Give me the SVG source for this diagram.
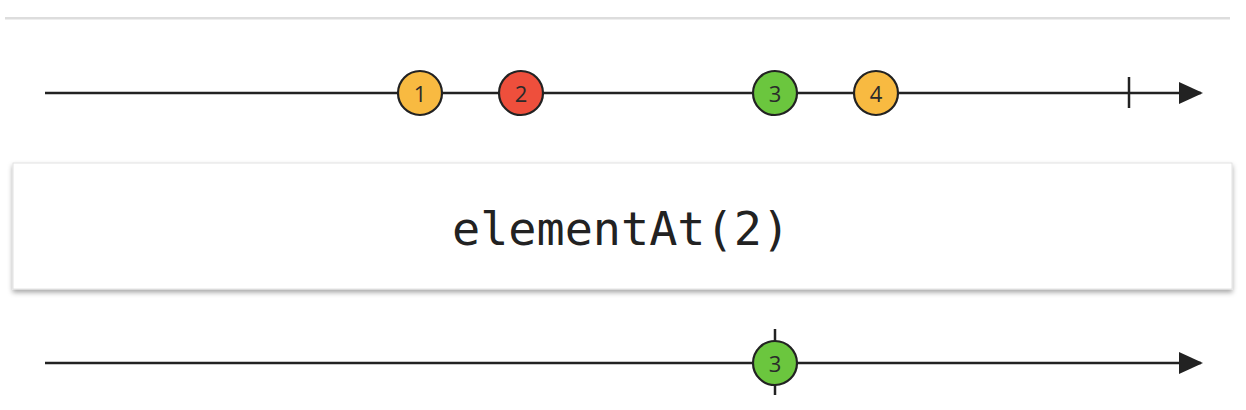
<svg xmlns="http://www.w3.org/2000/svg" width="1246" height="410" viewBox="0 0 1246 410">
<defs>
<style>
.tl{stroke:#222;stroke-width:2.5;fill:none}
.mk circle{stroke:#222;stroke-width:2.2}
.mk text{font-family:"Open Sans","DejaVu Sans",sans-serif;font-size:22px;fill:#2a2a2a;text-anchor:middle;dominant-baseline:central}
.y{fill:#F8BA41}.r{fill:#EE4F3C}.g{fill:#6BC63E}
</style>
<marker id="ah" viewBox="0 0 24 22" refX="22" refY="11" markerWidth="24" markerHeight="22" markerUnits="userSpaceOnUse" orient="auto">
<path d="M0,0 L24,11 L0,22 Z" fill="#222"/>
</marker>
<filter id="sh" x="-5%" y="-20%" width="110%" height="150%">
<feDropShadow dx="0" dy="3" stdDeviation="2.5" flood-color="#000" flood-opacity="0.35"/>
</filter>
</defs>
<rect width="1246" height="410" fill="#fff"/>
<rect x="5" y="17" width="1225" height="2.5" fill="#ddd"/>
<g id="connectors">
<line class="tl" x1="45" y1="93" x2="1201" y2="93" marker-end="url(#ah)"/>
<line class="tl" x1="1129" y1="77" x2="1129" y2="108"/>
<line class="tl" x1="45" y1="363" x2="1201" y2="363" marker-end="url(#ah)"/>
<line class="tl" x1="775" y1="329" x2="775" y2="395"/>
</g>
<g id="operator">
<rect x="13" y="163" width="1219" height="126" fill="#fff" stroke="#e2e2e2" stroke-width="1" filter="url(#sh)"/>
<text x="621" y="245" font-family="'DejaVu Sans Mono','Liberation Mono',monospace" font-size="46.8" fill="#222" text-anchor="middle">elementAt(2)</text>
</g>
<g id="m1" class="mk"><circle class="y" cx="420" cy="93" r="22"/><text x="420" y="93">1</text></g>
<g id="m2" class="mk"><circle class="r" cx="521" cy="93" r="22"/><text x="521" y="93">2</text></g>
<g id="m3" class="mk"><circle class="g" cx="775" cy="93" r="22"/><text x="775" y="93">3</text></g>
<g id="m4" class="mk"><circle class="y" cx="876" cy="93" r="22"/><text x="876" y="93">4</text></g>
<g id="out3" class="mk"><circle class="g" cx="775" cy="363" r="22"/><text x="775" y="363">3</text></g>
</svg>
